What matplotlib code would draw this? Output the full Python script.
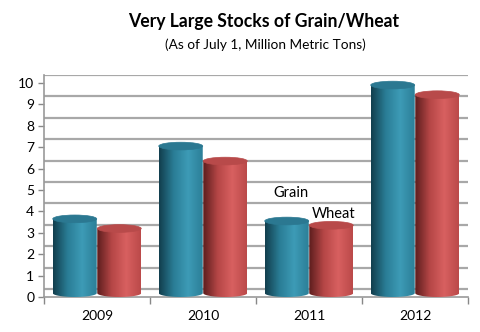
import numpy as np
import matplotlib
matplotlib.use('Agg')
import matplotlib.pyplot as plt
from matplotlib.colors import LinearSegmentedColormap
from matplotlib.patches import Ellipse, PathPatch
from matplotlib.path import Path
from matplotlib.transforms import ScaledTranslation

plt.rcParams['font.family'] = ['Lato', 'DejaVu Sans']

years = ['2009', '2010', '2011', '2012']
grain = [3.65, 7.05, 3.55, 9.9]
wheat = [3.2, 6.35, 3.35, 9.45]
yticks = list(range(0, 11))

fig = plt.figure(figsize=(4.8, 3.32), dpi=100)
ax = fig.add_axes([44 / 480, 1 - 297 / 332, 424 / 480, 222 / 332])

teal_cm = LinearSegmentedColormap.from_list('teal', ['#123f4e', '#2a7d96', '#3d9bb6', '#2c7f98'])
red_cm = LinearSegmentedColormap.from_list('red', ['#5e1e1e', '#b54646', '#d86060', '#bb4a4a'])
grad = np.linspace(0, 1, 64).reshape(1, -1)

bw = 0.415
eh = 0.36


def cylinder(xc, h, cmap, top_col):
    x0, x1 = xc - bw / 2, xc + bw / 2
    t = np.linspace(np.pi, 2 * np.pi, 30)
    bx = xc + bw / 2 * np.cos(t)
    by = eh / 2 * np.sin(t) + eh / 2
    verts = [(x0, h)] + list(zip(bx, by)) + [(x1, h), (x0, h)]
    codes = [Path.MOVETO] + [Path.LINETO] * (len(verts) - 2) + [Path.CLOSEPOLY]
    clip = PathPatch(Path(verts, codes), transform=ax.transData, facecolor='none', edgecolor='none')
    ax.add_patch(clip)
    im = ax.imshow(grad, cmap=cmap, extent=[x0, x1, 0, h], aspect='auto', zorder=3)
    im.set_clip_path(clip)
    ax.add_patch(Ellipse((xc, h), bw, eh, facecolor=top_col, edgecolor=top_col, lw=0.5, zorder=4))


for i in range(len(years)):
    cylinder(i - 0.21, grain[i], teal_cm, '#2b7891')
    cylinder(i + 0.21, wheat[i], red_cm, '#b84a4a')

# back wall gridlines, shifted up like the 3D wall
shift = ax.get_yaxis_transform() + ScaledTranslation(0, 8 / 100, fig.dpi_scale_trans)
for v in yticks:
    ax.plot([0, 1], [v, v], transform=shift, color='#a8a8a8', lw=1.6, zorder=1)

ax.text(1.66, 4.85, 'Grain', fontsize=10.5, va='center', zorder=5)
ax.text(2.03, 3.88, 'Wheat', fontsize=10.5, va='center', zorder=5)

ax.set_xlim(-0.5, 3.5)
ax.set_ylim(0, 10.37)
ax.set_yticks(yticks)
ax.set_xticks(range(len(years)))
ax.set_xticklabels(years)
ax.set_xticks([-0.5, 0.5, 1.5, 2.5, 3.5], minor=True)
ax.tick_params(axis='x', which='major', length=0, pad=9, labelsize=10)
ax.tick_params(axis='x', which='minor', length=5, color='#888888', width=1)
ax.tick_params(axis='y', length=4, color='#888888', width=1, labelsize=10, pad=3)
for s in ['top', 'right']:
    ax.spines[s].set_visible(False)
for s in ['left', 'bottom']:
    ax.spines[s].set_color('#999999')
    ax.spines[s].set_linewidth(1.2)

fig.text(264 / 480, 1 - 22 / 332, 'Very Large Stocks of Grain/Wheat', ha='center', va='center',
         fontsize=12.7, fontweight='bold')
fig.text(265 / 480, 1 - 45 / 332, '(As of July 1, Million Metric Tons)', ha='center', va='center',
         fontsize=9.8)

fig.savefig('out.png', dpi=100)
